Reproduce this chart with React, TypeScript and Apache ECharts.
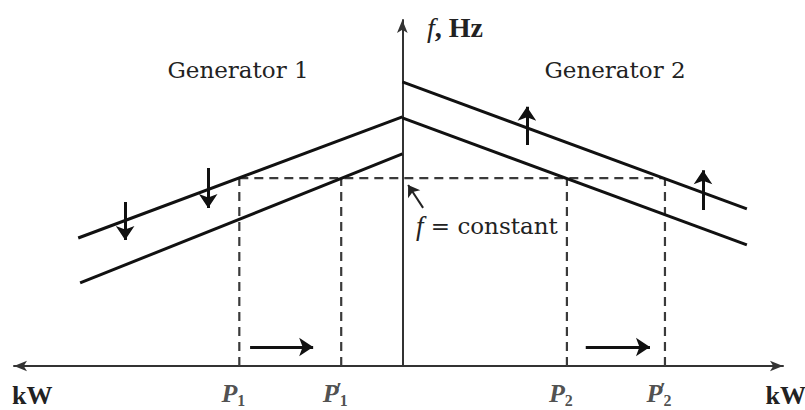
import React, { useEffect, useRef } from "react";
import * as echarts from "echarts";

// Axis ranges (arbitrary kW / Hz units, 0 kW at the f axis)
const xMin = -10.1;
const xMax = 9.9;
const yMin = 0;
const yMax = 10;

// Droop characteristics [kW, f]
const gen1Upper = [[-8.43, 3.7], [0, 7.2]];
const gen1Lower = [[-8.38, 2.4], [0, 6.13]];
const gen2Upper = [[0, 8.21], [8.96, 4.54]];
const gen2Lower = [[0, 7.17], [8.96, 3.5]];

// Constant system frequency
const fConstant = 5.43;

// Operating points: P1, P1', P2, P2'
const pValues = [-4.24, -1.59, 4.28, 6.83];
const pMain = ["P", "P", "P", "P"];
const pSub = ["1", "1", "2", "2"];
const pPrime = [false, true, false, true];

// Set-point shift arrows [x, from f, to f]
const shiftArrows = [
  [-7.21, 4.74, 3.64],
  [-5.05, 5.72, 4.57],
  [3.24, 6.39, 7.49],
  [7.82, 4.51, 5.66],
];

// Load shift arrows [from kW, to kW] at height
const loadArrows = [
  [-3.96, -2.32],
  [4.77, 6.44],
];
const loadArrowLevel = 0.55;

// Leader of "f = constant" [from, to]
const leader = [[0.54, 4.57], [0.15, 5.23]];

const SERIF = "Liberation Serif";
const SERIF_REG = "DejaVu Serif";

export default function App() {
  const ref = useRef<HTMLDivElement>(null);
  useEffect(() => {
    if (!ref.current) return;
    const chart = echarts.init(ref.current, undefined, { renderer: "svg" });

    const dashedH = [[pValues[0], fConstant], [pValues[3], fConstant]];
    const dashedSeries = [dashedH, ...pValues.map((p) => [[p, 0], [p, fConstant]])].map(
      (d) => ({
        type: "line",
        data: d,
        symbol: "none",
        z: 1,
        silent: true,
        lineStyle: { color: "#3a3a3a", width: 2.2, type: [9, 6] },
      })
    );

    const option: any = {
      animation: false,
      backgroundColor: "#fff",
      textStyle: { fontFamily: SERIF },
      grid: { left: 14, right: 22, top: 20, bottom: 44 },
      xAxis: {
        type: "value",
        min: xMin,
        max: xMax,
        axisLine: {
          show: true,
          onZero: false,
          symbol: ["arrow", "arrow"],
          symbolSize: [8, 13],
          lineStyle: { color: "#333", width: 2 },
        },
        axisTick: { show: false },
        axisLabel: { show: false },
        splitLine: { show: false },
      },
      yAxis: {
        type: "value",
        min: yMin,
        max: yMax,
        axisLine: {
          show: true,
          onZero: true,
          symbol: ["none", "arrow"],
          symbolSize: [8, 13],
          lineStyle: { color: "#333", width: 2 },
        },
        axisTick: { show: false },
        axisLabel: { show: false },
        splitLine: { show: false },
      },
      series: [
        ...dashedSeries,
        ...[gen1Upper, gen1Lower, gen2Upper, gen2Lower].map((d) => ({
          type: "line",
          data: d,
          symbol: "none",
          z: 3,
          lineStyle: { color: "#111", width: 3 },
        })),
        {
          type: "lines",
          coordinateSystem: "cartesian2d",
          polyline: false,
          z: 4,
          symbol: ["none", "arrow"],
          symbolSize: [7, 14],
          lineStyle: { color: "#111", width: 3, opacity: 1 },
          data: [
            ...shiftArrows.map((a) => ({ coords: [[a[0], a[1]], [a[0], a[2]]] })),
            ...loadArrows.map((a) => ({
              coords: [[a[0], loadArrowLevel], [a[1], loadArrowLevel]],
            })),
          ],
        },
        {
          type: "lines",
          coordinateSystem: "cartesian2d",
          polyline: false,
          z: 4,
          symbol: ["none", "arrow"],
          symbolSize: [6, 11],
          lineStyle: { color: "#222", width: 2, opacity: 1 },
          data: [{ coords: leader }],
        },
        {
          type: "scatter",
          symbolSize: 0,
          clip: false,
          z: 5,
          data: pValues.map((p) => [p, 0]),
          label: {
            show: true,
            position: "bottom",
            distance: 12,
            offset: [-6, 0],
            formatter: (params: any) => {
              const i = params.dataIndex;
              return (
                `{p|${pMain[i]}}` +
                (pPrime[i] ? `{pr|′}` : "") +
                `{s|${pSub[i]}}`
              );
            },
            rich: {
              p: {
                fontSize: 26,
                fontFamily: SERIF,
                fontStyle: "italic",
                fontWeight: "bold",
                color: "#222",
                lineHeight: 30,
                verticalAlign: "middle",
              },
              pr: {
                fontSize: 22,
                fontFamily: SERIF,
                fontWeight: "bold",
                color: "#222",
                verticalAlign: "top",
                lineHeight: 20,
                width: 1,
              },
              s: {
                fontSize: 16,
                fontFamily: SERIF,
                fontWeight: "bold",
                color: "#222",
                verticalAlign: "bottom",
                lineHeight: 16,
              },
            },
          },
        },
      ],
      graphic: [
        {
          type: "text",
          x: 238,
          y: 70,
          style: {
            text: "Generator 1",
            font: "23px 'DejaVu Serif'",
            fill: "#222",
            align: "center",
            verticalAlign: "middle",
          },
        },
        {
          type: "text",
          x: 615,
          y: 70,
          style: {
            text: "Generator 2",
            font: "23px 'DejaVu Serif'",
            fill: "#222",
            align: "center",
            verticalAlign: "middle",
          },
        },
        {
          type: "text",
          x: 427,
          y: 27,
          style: {
            text: "{i|f}{b|, Hz}",
            fill: "#222",
            align: "left",
            verticalAlign: "middle",
            rich: {
              i: { fontSize: 28, fontFamily: SERIF, fontStyle: "italic", fill: "#222" },
              b: { fontSize: 28, fontFamily: SERIF, fontWeight: "bold", fill: "#222" },
            },
          },
        },
        {
          type: "text",
          x: 416,
          y: 226,
          style: {
            text: "{i|f}{n| = constant}",
            fill: "#222",
            align: "left",
            verticalAlign: "middle",
            rich: {
              i: { fontSize: 27, fontFamily: SERIF, fontStyle: "italic", fill: "#222" },
              n: { fontSize: 23, fontFamily: SERIF_REG, fill: "#222" },
            },
          },
        },
        {
          type: "text",
          x: 12,
          y: 395,
          style: {
            text: "kW",
            font: "bold 26px Liberation Serif",
            fill: "#222",
            align: "left",
            verticalAlign: "middle",
          },
        },
        {
          type: "text",
          x: 806,
          y: 395,
          style: {
            text: "kW",
            font: "bold 26px Liberation Serif",
            fill: "#222",
            align: "right",
            verticalAlign: "middle",
          },
        },
      ],
    };

    chart.setOption(option);
    return () => chart.dispose();
  }, []);

  return (
    <div
      ref={ref}
      style={{ position: "fixed", left: 0, top: 0, width: 805, height: 410, background: "#fff" }}
    />
  );
}
